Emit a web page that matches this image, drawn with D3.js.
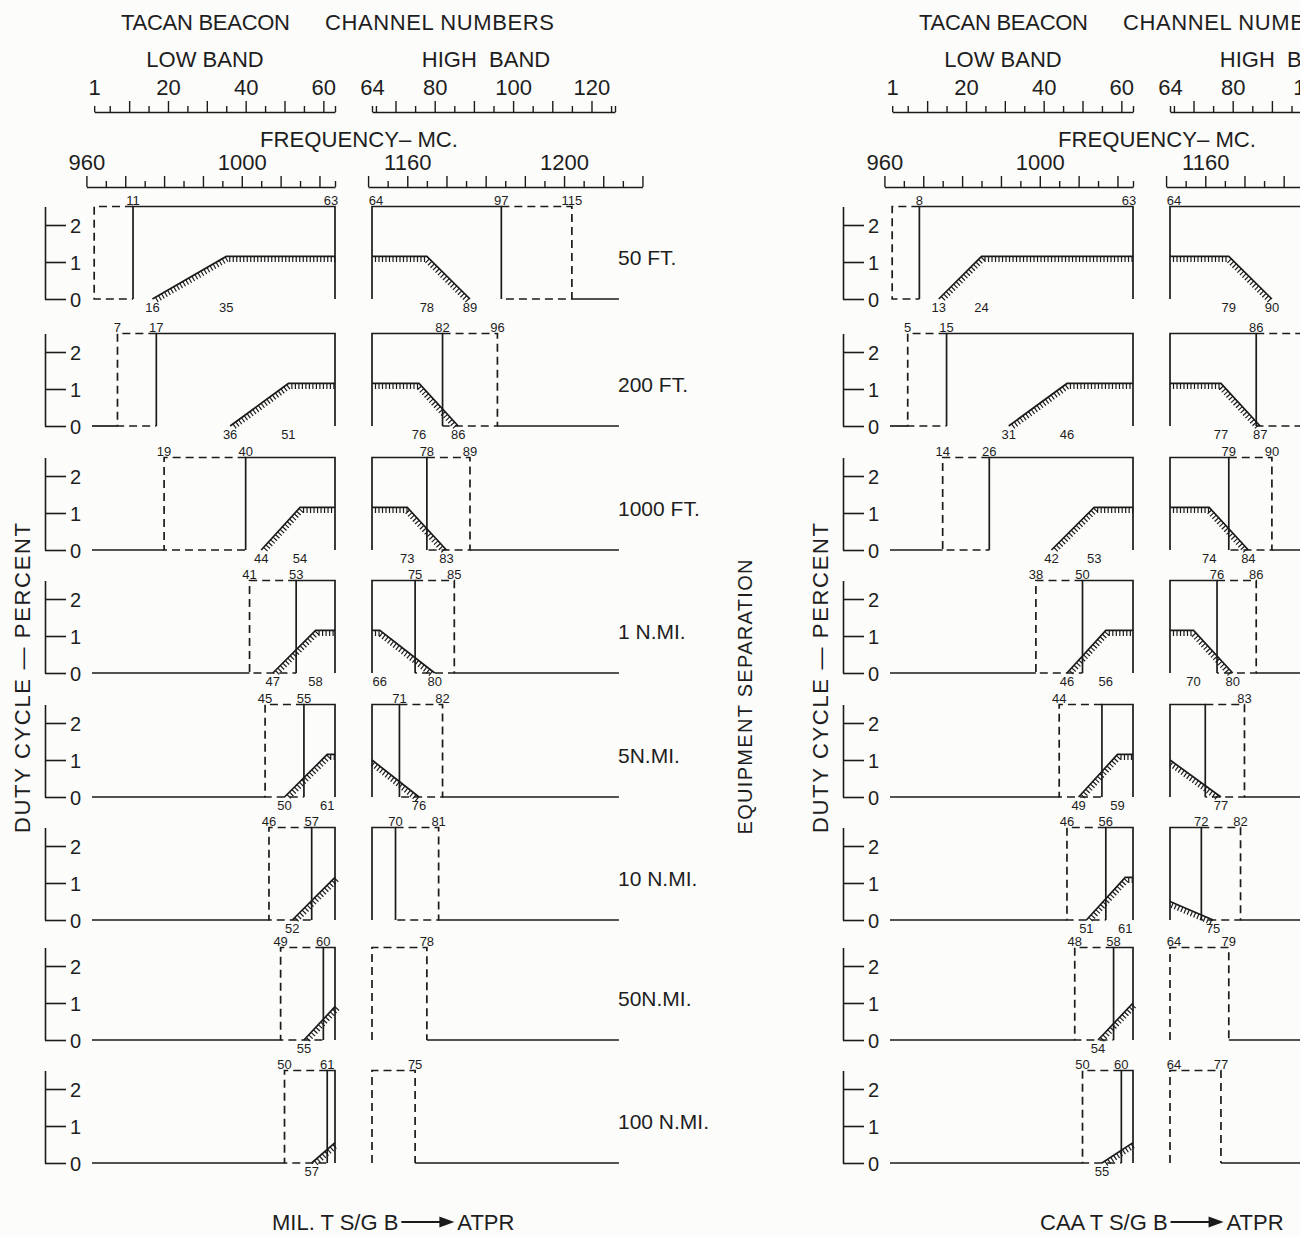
<!DOCTYPE html>
<html>
<head>
<meta charset="utf-8">
<script src="https://cdn.jsdelivr.net/npm/d3@7"></script>
<style>
  body { margin: 0; background: #fcfcfb; }
  svg { display: block; }
  text { font-family: "Liberation Sans", Arial, sans-serif; fill: #1e1e1e; }
</style>
</head>
<body>
<svg id="chart" width="1300" height="1236"></svg>
<script>
// ---- data (channel numbers / duty cycle %) ----
const separations = ["50 FT.", "200 FT.", "1000 FT.", "1 N.MI.", "5N.MI.", "10 N.MI.", "50N.MI.", "100 N.MI."];

// MIL. T S/G B -> ATPR
const milLowDash      = [1, 7, 19, 41, 45, 46, 49, 50];
const milLowSolid     = [11, 17, 40, 53, 55, 57, 60, 61];
const milLowRampStart = [16, 36, 44, 47, 50, 52, 55, 57];
const milLowRampTop   = [35, 51, 54, 58, 61, 63, 63, 63];
const milLowLevel     = [1.15, 1.15, 1.15, 1.15, 1.15, 1.15, 0.9, 0.55];
const milHighSolid    = [97, 82, 78, 75, 71, 70, null, null];
const milHighDash     = [115, 96, 89, 85, 82, 81, 78, 75];
const milHighFlatEnd  = [78, 76, 73, 66, 64, null, null, null];
const milHighRampEnd  = [89, 86, 83, 80, 76, null, null, null];
const milHighLevel    = [1.15, 1.15, 1.15, 1.15, 1.0, 0, 0, 0];
const milTopLabels    = [[11, 63, 64, 97, 115], [7, 17, 82, 96], [19, 40, 78, 89], [41, 53, 75, 85],
                         [45, 55, 71, 82], [46, 57, 70, 81], [49, 60, 78], [50, 61, 75]];
const milBottomLabels = [[16, 35, 78, 89], [36, 51, 76, 86], [44, 54, 73, 83], [47, 58, 66, 80],
                         [50, 61, 76], [52], [55], [57]];

// CAA T S/G B -> ATPR
const caaLowDash      = [1, 5, 14, 38, 44, 46, 48, 50];
const caaLowSolid     = [8, 15, 26, 50, 55, 56, 58, 60];
const caaLowRampStart = [13, 31, 42, 46, 49, 51, 54, 55];
const caaLowRampTop   = [24, 46, 53, 56, 59, 61, 63, 63];
const caaLowLevel     = [1.15, 1.15, 1.15, 1.15, 1.15, 1.15, 1.0, 0.55];
const caaHighSolid    = [110, 86, 79, 76, 73, 72, null, null];
const caaHighDash     = [120, 100, 90, 86, 83, 82, 79, 77];
const caaHighFlatEnd  = [79, 77, 74, 70, 64, 64, null, null];
const caaHighRampEnd  = [90, 87, 84, 80, 77, 75, null, null];
const caaHighLevel    = [1.15, 1.15, 1.15, 1.15, 1.0, 0.5, 0, 0];
const caaTopLabels    = [[8, 63, 64], [5, 15, 86], [14, 26, 79, 90], [38, 50, 76, 86],
                         [44, 83], [46, 56, 72, 82], [48, 58, 64, 79], [50, 60, 64, 77]];
const caaBottomLabels = [[13, 24, 79, 90], [31, 46, 77, 87], [42, 53, 74, 84], [46, 56, 70, 80],
                         [49, 59, 77], [51, 61, 75], [54], [55]];

// scale ticks
const chanLowMajor  = [10, 20, 30, 40, 50, 60];
const chanLowMinor  = [1, 5, 15, 25, 35, 45, 55, 63];
const chanLowText   = [1, 20, 40, 60];
const chanHighMajor = [70, 80, 90, 100, 110, 120];
const chanHighMinor = [64, 65, 75, 85, 95, 105, 115, 125, 126];
const chanHighText  = [64, 80, 100, 120];
const freqLowMajor  = [960, 970, 980, 990, 1000, 1010, 1020];
const freqLowMinor  = [965, 975, 985, 995, 1005, 1015, 1024];
const freqLowText   = [960, 1000];
const freqHighMajor = [1150, 1160, 1170, 1180, 1190, 1200, 1210, 1220];
const freqHighMinor = [1155, 1165, 1175, 1185, 1195, 1205, 1215];
const freqHighText  = [1160, 1200];

// ---- layout ----
const svg = d3.select("#chart");
const ink = "#1b1b1b";
const panelBase = [299, 426, 550, 673, 797, 920, 1040, 1163];
const unit = 37;
const topLevel = 2.5;

const chLow  = d3.scaleLinear().domain([0, 63]).range([90.3, 335]);
const chHigh = d3.scaleLinear().domain([64, 126]).range([372, 615]);
const fqLow  = d3.scaleLinear().domain([961, 1024]).range([90.3, 335]);
const fqHigh = d3.scaleLinear().domain([1151, 1213]).range([372, 615]);
const chX = c => c <= 63 ? chLow(c) : chHigh(c);

svg.append("rect").attr("width", 1300).attr("height", 1236).attr("fill", "#fcfcfb");

function seg(g, pts, dashed, w) {
  return g.append("path")
    .attr("d", d3.line()(pts))
    .attr("fill", "none")
    .attr("stroke", ink)
    .attr("stroke-width", w || 1.7)
    .attr("stroke-dasharray", dashed ? "8,5" : null);
}

function hatched(g, pts) {
  seg(g, pts);
  let d = "";
  for (let i = 0; i < pts.length - 1; i++) {
    const [x0, y0] = pts[i], [x1, y1] = pts[i + 1];
    const len = Math.hypot(x1 - x0, y1 - y0);
    if (len < 1) continue;
    let nx = -(y1 - y0) / len, ny = (x1 - x0) / len;
    if (ny < 0) { nx = -nx; ny = -ny; }
    const step = 3.5;
    for (let s = step; s < len; s += step) {
      const px = x0 + (x1 - x0) * s / len, py = y0 + (y1 - y0) * s / len;
      d += `M${px},${py}L${px + nx * 5.5},${py + ny * 5.5}`;
    }
  }
  g.append("path").attr("d", d).attr("stroke", ink).attr("stroke-width", 1.2).attr("fill", "none");
}

function scaleAxis(g, scale, y, major, minor, labels, pad) {
  const lo = d3.min(major.concat(minor)), hi = d3.max(major.concat(minor));
  const s = scale.copy().domain([lo, hi]).range([scale(lo), scale(hi)]);
  g.append("g").attr("transform", `translate(0,${y})`)
    .call(d3.axisTop(s).tickValues(major).tickSize(11).tickSizeOuter(0).tickFormat(""))
    .call(a => a.selectAll("line,path").attr("stroke", ink).attr("stroke-width", 1.4));
  g.append("g").attr("transform", `translate(0,${y})`)
    .call(d3.axisTop(s).tickValues(minor).tickSize(6).tickSizeOuter(0).tickFormat(""))
    .call(a => a.select(".domain").remove())
    .call(a => a.selectAll("line").attr("stroke", ink).attr("stroke-width", 1.4));
  g.append("g").attr("transform", `translate(0,${y})`)
    .call(d3.axisTop(scale).tickValues(labels).tickSize(0).tickPadding(pad).tickFormat(d3.format("d")))
    .call(a => a.select(".domain").remove())
    .call(a => a.selectAll("text").attr("font-size", 22).attr("font-family", "Liberation Sans, Arial, sans-serif").attr("fill", ink));
}

function header(g) {
  g.append("text").attr("x", 121).attr("y", 30).attr("font-size", 22)
    .attr("textLength", 169).attr("lengthAdjust", "spacing").text("TACAN BEACON");
  g.append("text").attr("x", 325).attr("y", 30).attr("font-size", 22)
    .attr("textLength", 229).attr("lengthAdjust", "spacing").text("CHANNEL NUMBERS");
  g.append("text").attr("x", 205).attr("y", 67).attr("font-size", 22).attr("text-anchor", "middle").text("LOW BAND");
  g.append("text").attr("x", 486).attr("y", 67).attr("font-size", 22).attr("text-anchor", "middle")
    .attr("xml:space", "preserve").text("HIGH  BAND");
  scaleAxis(g, chLow, 112, chanLowMajor, chanLowMinor, chanLowText, 17);
  scaleAxis(g, chHigh, 112, chanHighMajor, chanHighMinor, chanHighText, 17);
  g.append("text").attr("x", 260).attr("y", 147).attr("font-size", 22)
    .attr("textLength", 198).attr("lengthAdjust", "spacingAndGlyphs").text("FREQUENCY\u2013 MC.");
  scaleAxis(g, fqLow, 187, freqLowMajor, freqLowMinor, freqLowText, 17);
  scaleAxis(g, fqHigh, 187, freqHighMajor, freqHighMinor, freqHighText, 17);
  g.append("text").attr("transform", "translate(30,678) rotate(-90)").attr("font-size", 22)
    .attr("text-anchor", "middle").attr("textLength", 310).attr("lengthAdjust", "spacing")
    .text("DUTY CYCLE \u2014 PERCENT");
}

function panel(g, i, d) {
  const y0 = panelBase[i];
  const y = d3.scaleLinear().domain([0, topLevel]).range([y0, y0 - topLevel * unit]);
  const top = y(topLevel), bot = y(0);

  g.append("g").attr("transform", "translate(45,0)")
    .call(d3.axisRight(y).tickValues([0, 1, 2]).tickSize(21).tickSizeOuter(0).tickPadding(4).tickFormat(d3.format("d")))
    .call(a => a.selectAll("line,path").attr("stroke", ink).attr("stroke-width", 1.6))
    .call(a => a.selectAll("text").attr("font-size", 20).attr("dy", "0.36em")
      .attr("font-family", "Liberation Sans, Arial, sans-serif").attr("fill", ink));

  // low band
  const xl = chLow;
  if (d.lowDash[i] > 1) seg(g, [[92, bot], [xl(d.lowDash[i]), bot]]);
  seg(g, [[xl(d.lowSolid[i]), top], [xl(d.lowDash[i]), top], [xl(d.lowDash[i]), bot], [xl(d.lowSolid[i]), bot]], true);
  seg(g, [[xl(d.lowSolid[i]), bot], [xl(d.lowSolid[i]), top], [xl(63), top], [xl(63), bot]]);
  const lr = [[xl(d.lowRampStart[i]), bot], [xl(d.lowRampTop[i]), y(d.lowLevel[i])]];
  if (d.lowRampTop[i] < 63) lr.push([xl(63), y(d.lowLevel[i])]);
  hatched(g, lr);

  // high band
  const xh = chHigh;
  const s = d.highSolid[i], e = d.highDash[i];
  if (s != null) {
    seg(g, [[xh(64), bot], [xh(64), top], [xh(s), top], [xh(s), bot]]);
    seg(g, [[xh(s), top], [xh(e), top], [xh(e), bot], [xh(s), bot]], true);
  } else {
    seg(g, [[xh(64), bot], [xh(64), top], [xh(e), top], [xh(e), bot]], true);
  }
  if (e < 127) seg(g, [[xh(e), bot], [xh(127), bot]]);
  if (d.highFlatEnd[i] != null) {
    const lv = y(d.highLevel[i]);
    const hr = [[xh(64), lv]];
    if (d.highFlatEnd[i] > 64) hr.push([xh(d.highFlatEnd[i]), lv]);
    hr.push([xh(d.highRampEnd[i]), bot]);
    hatched(g, hr);
  }

  // channel labels
  const nudge = c => c === 63 ? -4 : c === 64 ? 4 : 0;
  d.topLabels[i].forEach(c => {
    g.append("text").attr("x", chX(c) + nudge(c)).attr("y", top - 2).attr("font-size", 13)
      .attr("text-anchor", "middle").text(c);
  });
  d.bottomLabels[i].forEach(c => {
    g.append("text").attr("x", chX(c)).attr("y", bot + 13).attr("font-size", 13)
      .attr("text-anchor", "middle").text(c);
  });
}

function figure(offset, d) {
  const g = svg.append("g").attr("transform", `translate(${offset},0)`);
  header(g);
  for (let i = 0; i < separations.length; i++) panel(g, i, d);
  return g;
}

function caption(x, words) {
  const t = svg.append("text").attr("x", x).attr("y", 1230).attr("font-size", 22).text(words);
  const w = t.node().getComputedTextLength();
  const ax = x + w + 3;
  svg.append("path").attr("d", `M${ax},1222H${ax + 40}`).attr("stroke", ink).attr("stroke-width", 2);
  svg.append("path").attr("d", `M${ax + 38},1216.5L${ax + 53},1222L${ax + 38},1227.5Z`).attr("fill", ink);
  svg.append("text").attr("x", ax + 56).attr("y", 1230).attr("font-size", 22).text("ATPR");
}

const mil = figure(0, {
  lowDash: milLowDash, lowSolid: milLowSolid, lowRampStart: milLowRampStart, lowRampTop: milLowRampTop,
  lowLevel: milLowLevel, highSolid: milHighSolid, highDash: milHighDash, highFlatEnd: milHighFlatEnd,
  highRampEnd: milHighRampEnd, highLevel: milHighLevel, topLabels: milTopLabels, bottomLabels: milBottomLabels
});
separations.forEach((name, i) => {
  mil.append("text").attr("x", 618).attr("y", panelBase[i] - 34).attr("font-size", 21).text(name);
});
mil.append("text").attr("transform", "translate(752,697) rotate(-90)").attr("font-size", 20)
  .attr("text-anchor", "middle").attr("textLength", 275).attr("lengthAdjust", "spacing")
  .text("EQUIPMENT SEPARATION");

figure(798, {
  lowDash: caaLowDash, lowSolid: caaLowSolid, lowRampStart: caaLowRampStart, lowRampTop: caaLowRampTop,
  lowLevel: caaLowLevel, highSolid: caaHighSolid, highDash: caaHighDash, highFlatEnd: caaHighFlatEnd,
  highRampEnd: caaHighRampEnd, highLevel: caaHighLevel, topLabels: caaTopLabels, bottomLabels: caaBottomLabels
});

caption(272, "MIL. T S/G B");
caption(1040, "CAA T S/G B");
</script>
</body>
</html>
